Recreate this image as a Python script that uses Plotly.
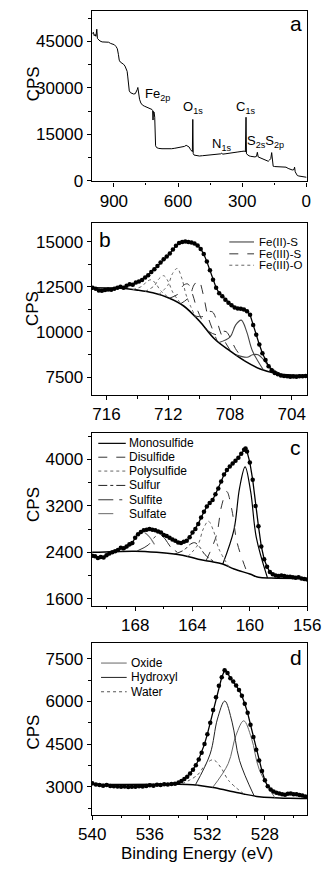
import plotly.graph_objects as go

# ---------------- panel a : survey spectrum ----------------
survey_be = [1000, 996, 992, 988, 984, 980, 977, 972, 965, 955, 945, 935, 925, 915, 905, 898, 890, 884, 879, 875,
             870, 862, 855, 848, 842, 838, 835, 832, 828, 822, 815, 808, 800, 795, 791, 788, 785, 780, 774, 766,
             758, 750, 740, 730, 722, 719, 717, 715, 712, 709, 707, 705, 700, 690, 675, 660, 645, 630, 615, 600,
             585, 570, 562, 555, 548, 542, 537, 533, 531, 529, 525, 515, 500, 485, 470, 455, 440, 425, 410, 400,
             396, 392, 380, 365, 350, 335, 320, 305, 295, 289, 285, 282, 280, 275, 268, 260, 250, 240, 233, 229,
             225, 218, 210, 200, 192, 185, 178, 172, 166, 162, 159, 155, 148, 135, 120, 105, 95, 85, 75, 66,
             58, 55, 52, 48, 42, 35, 25, 15, 5, 0]
survey_cps = [47500, 47900, 46800, 47200, 46600, 48900, 45900, 45400, 45100, 44800, 44800, 44600, 44700, 44300, 44200,
              43900, 43300, 42600, 40800, 38900, 38300, 38000, 37600, 37000, 36200, 35300, 33500, 30500, 29000, 28400,
              28100, 28000, 28100, 28600, 29400, 30100, 27600, 26300, 25100, 24400, 24100, 23900, 23600, 23300, 23000,
              22700, 19600, 22400, 22200, 20500, 12800, 11300, 10700, 10450, 10350, 10300, 10250, 10350, 10500, 10650,
              10800, 11100, 11450, 11300, 10900, 10100, 9600, 9400, 19800, 8800, 8300, 8100, 8000, 8100, 8200,
              8250, 8350, 8400, 8500, 8700, 8950, 8600, 8700, 8800, 8950, 9100, 9300, 9450, 9700, 9600,
              9300, 20500, 8700, 8300, 8050, 7900, 7800, 7700, 7900, 9200, 7700, 7500, 7300, 7000, 6700,
              6400, 6300, 6700, 7200, 9100, 5500, 4700, 4600, 4600, 4500, 4450, 4400, 4000, 3700, 3500,
              3600, 4400, 2900, 2200, 1700, 1550, 1400, 1250, 1200, 1150]
survey_peak_labels = ["Fe<sub>2p</sub>", "O<sub>1s</sub>", "N<sub>1s</sub>", "C<sub>1s</sub>", "S<sub>2s</sub>S<sub>2p</sub>"]
survey_label_be = [695, 531, 396, 286, 189]
survey_label_cps = [27990, 23740, 11710, 23740, 12570]

# ---------------- panel b : Fe 2p ----------------
fe_be = [716.9, 716.7, 716.5, 716.3, 716.1, 715.9, 715.7, 715.5, 715.3, 715.1, 714.9, 714.7, 714.5, 714.3, 714.1,
         713.9, 713.7, 713.5, 713.3, 713.1, 712.9, 712.7, 712.5, 712.3, 712.1, 711.9, 711.7, 711.5, 711.3, 711.1,
         710.9, 710.7, 710.5, 710.3, 710.1, 709.9, 709.7, 709.5, 709.3, 709.1, 708.9, 708.7, 708.5, 708.3, 708.1,
         707.9, 707.7, 707.5, 707.3, 707.1, 706.9, 706.7, 706.5, 706.3, 706.1, 705.9, 705.7, 705.5, 705.3, 705.1,
         704.9, 704.7, 704.5, 704.3, 704.1, 703.9, 703.7, 703.5, 703.3, 703.1]
fe_cps = [12450, 12400, 12300, 12280, 12330, 12360, 12340, 12400, 12450, 12500, 12450, 12560, 12650, 12620, 12740,
          12800, 12880, 13020, 13150, 13330, 13480, 13650, 13850, 14030, 14180, 14350, 14570, 14780, 14930, 14990,
          15010, 14990, 14960, 14900, 14800, 14600, 14320, 13900, 13420, 12900, 12450, 12150, 11980, 11780, 11620,
          11480, 11350, 11300, 11290, 11250, 11150, 10950, 10380, 9850, 9300, 8820, 8450, 8100, 7880, 7730,
          7650, 7590, 7560, 7540, 7520, 7530, 7510, 7540, 7550, 7560]
fe_bg_be = [717, 716, 715, 714, 713, 712, 711, 710, 709, 708, 707, 706, 705, 704, 703]
fe_bg_cps = [12450, 12440, 12420, 12320, 12170, 11900, 11440, 10620, 9610, 8950, 8370, 7930, 7700, 7610, 7600]
fe2s_1_be = [708.71, 707.99, 707.63, 707.27, 706.91, 706.55, 705.83]
fe2s_1_cps = [9419, 9732, 10396, 10657, 9991, 8960, 7891]
fe2s_2_be = [707.62, 706.90, 706.54, 706.18, 705.82, 705.46, 704.74]
fe2s_2_cps = [8730, 8596, 8737, 8739, 8458, 8076, 7677]
fe3s_1_be = [711.93, 711.33, 711.03, 710.73, 710.43, 710.13, 709.53]
fe3s_1_cps = [11868, 12125, 12577, 12660, 12096, 11260, 10145]
fe3s_2_be = [711.23, 710.63, 710.33, 710.03, 709.73, 709.43, 708.83]
fe3s_2_cps = [11546, 11951, 12607, 12840, 12063, 10858, 9498]
fe3s_3_be = [710.34, 709.74, 709.44, 709.14, 708.84, 708.54, 707.94]
fe3s_3_cps = [10899, 10860, 11115, 11110, 10565, 9809, 8915]
fe3s_4_be = [709.45, 708.85, 708.55, 708.25, 707.95, 707.65, 707.05]
fe3s_4_cps = [10064, 9844, 10015, 10015, 9623, 9080, 8399]
fe3o_1_be = [714.3, 713.7, 713.4, 713.1, 712.8, 712.5, 711.9]
fe3o_1_cps = [12350, 12538, 12784, 12895, 12670, 12298, 11854]
fe3o_2_be = [713.5, 712.9, 712.6, 712.3, 712.0, 711.7, 711.1]
fe3o_2_cps = [12245, 12565, 12951, 13120, 12789, 12184, 11486]
fe3o_3_be = [712.62, 712.02, 711.72, 711.42, 711.12, 710.82, 710.22]
fe3o_3_cps = [12067, 12604, 13245, 13520, 12969, 11991, 10800]
fe_legend = ["Fe(II)-S", "Fe(III)-S", "Fe(III)-O"]

# ---------------- panel c : S 2p ----------------
s_be = [171.0, 170.8, 170.6, 170.4, 170.2, 170.0, 169.8, 169.6, 169.4, 169.2, 169.0, 168.8, 168.6, 168.4, 168.2,
        168.0, 167.8, 167.6, 167.4, 167.2, 167.0, 166.8, 166.6, 166.4, 166.2, 166.0, 165.8, 165.6, 165.4, 165.2,
        165.0, 164.8, 164.6, 164.4, 164.2, 164.0, 163.8, 163.6, 163.4, 163.2, 163.0, 162.8, 162.6, 162.4, 162.2,
        162.0, 161.8, 161.6, 161.4, 161.2, 161.0, 160.8, 160.6, 160.4, 160.3, 160.2, 160.0, 159.8, 159.6, 159.4,
        159.2, 159.0, 158.8, 158.6, 158.4, 158.2, 158.0, 157.8, 157.6, 157.4, 157.2, 157.0, 156.8, 156.6, 156.4,
        156.2, 156.0]
s_cps = [2340, 2330, 2300, 2320, 2310, 2350, 2380, 2400, 2420, 2440, 2480, 2470, 2500, 2540, 2560,
         2650, 2710, 2750, 2780, 2790, 2800, 2790, 2780, 2760, 2740, 2700, 2680, 2650, 2620, 2600,
         2570, 2560, 2580, 2600, 2660, 2740, 2800, 2890, 3000, 3100, 3190, 3250, 3300, 3400, 3500,
         3620, 3740, 3820, 3880, 3930, 3980, 4030, 4100, 4170, 4190, 4140, 3950, 3650, 3200, 2850,
         2500, 2280, 2150, 2060, 2020, 2000, 1990, 2000, 1990, 1980, 1980, 1970, 1960, 1970, 1950,
         1940, 1930]
s_bg_be = [171, 168, 166.5, 164.7, 163.6, 162.8, 161.9, 161.1, 160.0, 159.4, 158.5, 156]
s_bg_cps = [2400, 2420, 2400, 2350, 2282, 2245, 2197, 2111, 2026, 1969, 1955, 1950]
mono_be = [161.89, 161.11, 160.72, 160.33, 159.94, 159.55, 158.77]
mono_cps = [2196, 2787, 3504, 3874, 3442, 2658, 1959]
di_be = [163.05, 162.33, 161.97, 161.61, 161.25, 160.89, 160.17]
di_cps = [2257, 2694, 3201, 3448, 3127, 2569, 2039]
poly_be = [164.33, 163.61, 163.25, 162.89, 162.53, 162.17, 161.45]
poly_cps = [2327, 2537, 2802, 2936, 2767, 2465, 2149]
sulfur_be = [165.29, 164.57, 164.21, 163.85, 163.49, 163.13, 162.41]
sulfur_cps = [2366, 2442, 2529, 2566, 2487, 2360, 2224]
sulfite_be = [167.86, 167.08, 166.69, 166.3, 165.91, 165.52, 164.74]
sulfite_cps = [2424, 2527, 2649, 2709, 2630, 2490, 2351]
sulfate_be = [168.93, 168.15, 167.76, 167.37, 166.98, 166.59, 165.81]
sulfate_cps = [2427, 2544, 2672, 2737, 2659, 2521, 2381]
s_legend = ["Monosulfide", "Disulfide", "Polysulfide", "Sulfur", "Sulfite", "Sulfate"]

# ---------------- panel d : O 1s ----------------
o_be = [540.0, 539.75, 539.5, 539.25, 539.0, 538.75, 538.5, 538.25, 538.0, 537.75, 537.5, 537.25, 537.0, 536.75,
        536.5, 536.25, 536.0, 535.75, 535.5, 535.25, 535.0, 534.75, 534.5, 534.25, 534.0, 533.8, 533.6, 533.4,
        533.2, 533.0, 532.8, 532.6, 532.4, 532.2, 532.0, 531.8, 531.6, 531.4, 531.2, 531.0, 530.8, 530.6, 530.4,
        530.2, 530.0, 529.8, 529.6, 529.4, 529.2, 529.0, 528.8, 528.6, 528.4, 528.2, 528.0, 527.8, 527.6, 527.4,
        527.2, 527.0, 526.8, 526.6, 526.4, 526.2, 526.0, 525.8, 525.6, 525.4, 525.2, 525.0]
o_cps = [3120, 3080, 3060, 3040, 3060, 3030, 3020, 3010, 3000, 3010, 2990, 3000, 3000, 3020,
         3010, 3030, 3050, 3040, 3070, 3060, 3090, 3080, 3100, 3110, 3150, 3200, 3270, 3350,
         3470, 3600, 3760, 3960, 4200, 4500, 4850, 5250, 5700, 6150, 6550, 6850, 7100, 7000, 6820,
         6700, 6560, 6400, 6200, 5920, 5600, 5180, 4750, 4300, 3920, 3550, 3230, 3020, 2900, 2830,
         2790, 2760, 2740, 2720, 2750, 2760, 2740, 2740, 2710, 2690, 2660, 2650]
o_bg_be = [540, 534, 533, 532.66, 531.6, 530.54, 529.47, 528.4, 527.34, 526.28, 525]
o_bg_cps = [3080, 3090, 3075, 3057, 2976, 2860, 2744, 2651, 2616, 2593, 2590]
oxide_be = [531.63, 530.55, 530.01, 529.47, 528.93, 528.39, 527.31]
oxide_cps = [2978, 3814, 4812, 5319, 4706, 3603, 2615]
hydroxyl_be = [532.83, 531.81, 531.30, 530.79, 530.28, 529.77, 528.75]
hydroxyl_cps = [3068, 4149, 5383, 6015, 5272, 3933, 2681]
water_be = [533.76, 532.68, 532.14, 531.6, 531.06, 530.52, 529.44]
water_cps = [3100, 3418, 3776, 3950, 3677, 3218, 2741]
o_legend = ["Oxide", "Hydroxyl", "Water"]

# ------------------------------------------------------------------
W, H = 334, 869
FONT = "Arial, Liberation Sans, sans-serif"


def px(x):
    return x / W


def py(y):
    return 1 - y / H


fig = go.Figure()


def line(x, y, n, color="black", width=1.0, dash="solid", shape="spline"):
    fig.add_trace(go.Scatter(x=x, y=y, xaxis="x" + n, yaxis="y" + n, mode="lines",
                             line=dict(color=color, width=width, dash=dash, shape=shape),
                             hoverinfo="skip", showlegend=False))


def dots(x, y, n):
    fig.add_trace(go.Scatter(x=x, y=y, xaxis="x" + n, yaxis="y" + n, mode="lines+markers",
                             line=dict(color="black", width=1.3),
                             marker=dict(color="black", size=4.5),
                             hoverinfo="skip", showlegend=False))


# panel a
line(survey_be, survey_cps, "", color="black", width=1.0, shape="linear")

# panel b
line(fe_bg_be, fe_bg_cps, "2", color="black", width=1.6)
for xb, yb in [(fe3o_1_be, fe3o_1_cps), (fe3o_2_be, fe3o_2_cps), (fe3o_3_be, fe3o_3_cps)]:
    line(xb, yb, "2", color="#666", width=1, dash="dot")
for xb, yb in [(fe3s_1_be, fe3s_1_cps), (fe3s_2_be, fe3s_2_cps), (fe3s_3_be, fe3s_3_cps), (fe3s_4_be, fe3s_4_cps)]:
    line(xb, yb, "2", color="#333", width=1, dash="dash")
for xb, yb in [(fe2s_1_be, fe2s_1_cps), (fe2s_2_be, fe2s_2_cps)]:
    line(xb, yb, "2", color="#444", width=1.1)
dots(fe_be, fe_cps, "2")

# panel c
s_styles = [("black", 1.2, "solid"), ("#333", 1, "dash"), ("#666", 1, "dot"),
            ("#222", 1, "dashdot"), ("#333", 1, "longdashdot"), ("#777", 1.1, "longdash")]
line(s_bg_be, s_bg_cps, "3", color="black", width=1.5)
for (xs, ys), st in zip([(mono_be, mono_cps), (di_be, di_cps), (poly_be, poly_cps), (sulfur_be, sulfur_cps),
                         (sulfite_be, sulfite_cps), (sulfate_be, sulfate_cps)], s_styles):
    line(xs, ys, "3", color=st[0], width=st[1], dash=st[2])
dots(s_be, s_cps, "3")

# panel d
o_styles = [("#666", 1, "solid"), ("#222", 1, "solid"), ("#555", 1, "dot")]
line(o_bg_be, o_bg_cps, "4", color="black", width=1.5)
for (xo, yo), st in zip([(oxide_be, oxide_cps), (hydroxyl_be, hydroxyl_cps), (water_be, water_cps)], o_styles):
    line(xo, yo, "4", color=st[0], width=st[1], dash=st[2])
dots(o_be, o_cps, "4")

# ---------------- axes ----------------
x_left, x_right = px(85), px(320)
frames = {"": (10.7, 183.3), "2": (225, 399), "3": (438, 612), "4": (650, 823.3)}
x_ranges = {"": [1003, -4], "2": [716.95, 703], "3": [171.02, 156], "4": [540.03, 525.06]}
x_dticks = {"": (300, 150), "2": (4, 2), "3": (4, 2), "4": (4, 2)}
y_ranges = {"": [-190, 54900], "2": [6512, 16059], "3": [1480, 4449], "4": [2015, 8046]}
y_dticks = {"": (15000, 7500), "2": (2500, 1250), "3": (800, 400), "4": (1500, 750)}
x_tick0 = {"": 0, "2": 704, "3": 156, "4": 528}
y_tick0 = {"": 0, "2": 7500, "3": 1600, "4": 3000}

tickfont = dict(family=FONT, size=17, color="black")
for n, (top, bot) in frames.items():
    xa = dict(domain=[x_left, x_right], anchor="y" + n, range=x_ranges[n],
              showline=True, linecolor="black", linewidth=1.4, mirror=True,
              ticks="outside", ticklen=4, tickwidth=1.2, tickcolor="black",
              tick0=x_tick0[n], dtick=x_dticks[n][0], showgrid=False, zeroline=False,
              tickfont=tickfont,
              minor=dict(ticks="outside", ticklen=2.5, tickcolor="black", dtick=x_dticks[n][1],
                         tick0=x_tick0[n], showgrid=False))
    ya = dict(domain=[py(bot), py(top)], anchor="x" + n, range=y_ranges[n],
              showline=True, linecolor="black", linewidth=1.4, mirror=True,
              ticks="outside", ticklen=4, tickwidth=1.2, tickcolor="black",
              tick0=y_tick0[n], dtick=y_dticks[n][0], showgrid=False, zeroline=False,
              tickformat="d", tickfont=tickfont,
              minor=dict(ticks="outside", ticklen=2.5, tickcolor="black", dtick=y_dticks[n][1],
                         tick0=y_tick0[n], showgrid=False))
    fig.layout["xaxis" + n] = xa
    fig.layout["yaxis" + n] = ya

annotations = []
shapes = []

# survey peak labels
for t, xv, yv in zip(survey_peak_labels, survey_label_be, survey_label_cps):
    annotations.append(dict(text=t, x=xv, y=yv, xref="x", yref="y", showarrow=False,
                            xanchor="center", yanchor="middle",
                            font=dict(family=FONT, size=13, color="black")))

# panel letters
for t, (xp, yp) in zip(["a", "b", "c", "d"], [(308, 24), (99, 242), (307, 452), (308, 664)]):
    annotations.append(dict(text=t, x=px(xp), y=py(yp), xref="paper", yref="paper", showarrow=False,
                            xanchor="center", yanchor="middle",
                            font=dict(family=FONT, size=21, color="black")))

# CPS titles
for yp in [85, 312, 510, 740]:
    annotations.append(dict(text="CPS", x=px(21), y=py(yp), xref="paper", yref="paper", showarrow=False,
                            xanchor="center", yanchor="middle",
                            textangle=-90, font=dict(family=FONT, size=17, color="black")))

# x title
annotations.append(dict(text="Binding Energy (eV)", x=px(200), y=py(862), xref="paper", yref="paper",
                        xanchor="center", yanchor="middle", borderpad=0,
                        showarrow=False, font=dict(family=FONT, size=17, color="black")))


def legend(names, styles, rows, x0, x1, xt, size):
    for name, st, yr in zip(names, styles, rows):
        shapes.append(dict(type="line", xref="paper", yref="paper", x0=px(x0), x1=px(x1),
                           y0=py(yr), y1=py(yr), line=dict(color=st[0], width=st[1], dash=st[2])))
        annotations.append(dict(text=name, x=px(xt), y=py(yr), xref="paper", yref="paper",
                                xanchor="left", yanchor="middle", showarrow=False,
                                font=dict(family=FONT, size=size, color="black")))


legend(fe_legend, [("#444", 1.1, "solid"), ("#333", 1, "dash"), ("#666", 1, "dot")],
       [244.5, 256.5, 268], 235, 262, 265, 11.5)
legend(s_legend, s_styles, [448, 462, 476, 490.5, 505, 519], 92, 122, 123, 12)
legend(o_legend, o_styles, [670, 684.5, 699], 95, 123, 125, 12)

fig.update_layout(width=W, height=H, margin=dict(l=0, r=0, t=0, b=0),
                  paper_bgcolor="white", plot_bgcolor="white", showlegend=False,
                  annotations=annotations, shapes=shapes)

fig.write_html("out.html")
